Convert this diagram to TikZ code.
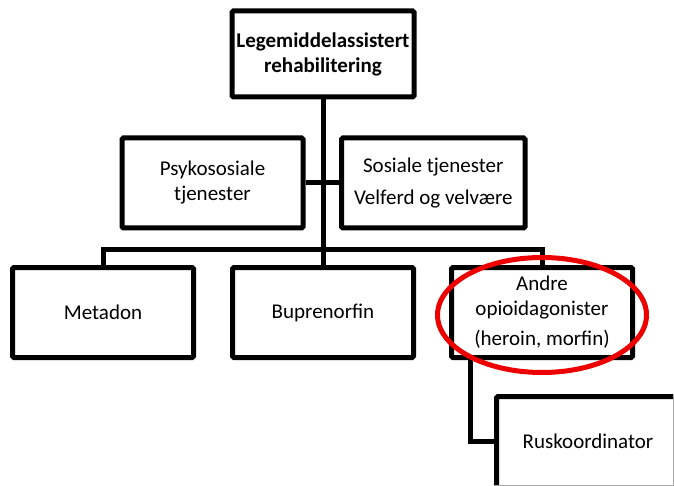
\documentclass[tikz,border=0pt]{standalone}
\usepackage{fontspec}
\setmainfont{Carlito}
\usetikzlibrary{shapes.geometric}
\begin{document}
\begin{tikzpicture}[x=1pt,y=-1pt,
  box/.style={draw=black, line width=5pt, inner sep=0pt, minimum width=181pt, minimum height=90pt,
    align=center, font=\fontsize{21}{25}\selectfont, rounded corners=1.5pt, fill=white},
  conn/.style={draw=black, line width=5pt},
  edgeline/.style={draw=black!35, line width=1pt},
  highlight/.style={ellipse, draw={rgb,255:red,236;green,0;blue,0}, line width=5pt, inner sep=0pt}]
\path[use as bounding box, clip] (0,0) rectangle (674,486);
\coordinate (bus) at (323,249.5);
\coordinate (bend) at (470.5,441.5);
% boxes
\node[box, minimum width=182pt, minimum height=86pt, font=\fontsize{21}{25}\selectfont\bfseries] (top) at (323,54) {Legemiddelassistert\\rehabilitering};
\node[box] (psy) at (212.5,183) {Psykososiale\\tjenester};
\node[box, minimum width=183.5pt] (sos) at (433.25,183) {Sosiale tjenester\\[7pt]Velferd og velvære};
\node[box] (met) at (103,312.5) {Metadon};
\node[box] (bup) at (323,312.5) {Buprenorfin};
\node[box] (and) at (542,312.5) {Andre\\opioidagonister\\[5pt](heroin, morfin)};
\node[box, minimum width=195pt, minimum height=100pt, text depth=10pt] (rus) at (594,446.5) {Ruskoordinator\hspace*{12pt}};
% thin edge of the cut-off box at the picture border
\coordinate (rc) at (673.3,485.3);
\draw[edgeline] (rus.north -| rc) -- (rc) -- (rus.west |- rc);
% connectors by name
\draw[conn] (top.south) -- (bus) -- (bup.north);
\draw[conn] (psy.east) -- (sos.west);
\draw[conn] (met.north) -- (met.north |- bus) -- (and.north |- bus) -- (and.north);
\draw[conn] (and.south -| bend) -- (bend) -- (rus.west |- bend);
% highlight
\node[highlight, minimum width=209pt, minimum height=115pt] (hl) at (542,315) {};
\end{tikzpicture}
\end{document}
